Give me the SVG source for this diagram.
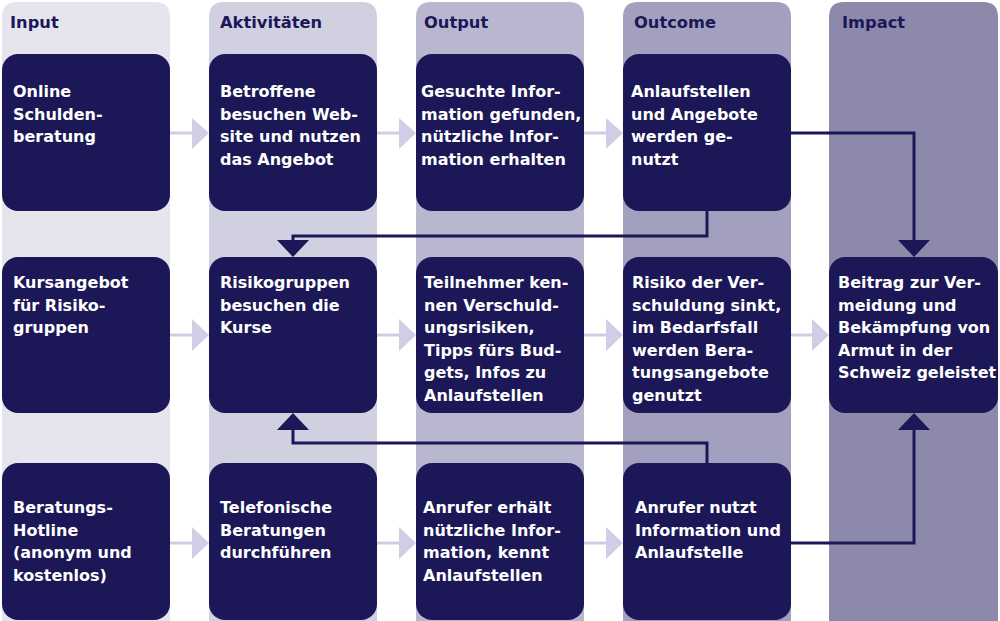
<svg xmlns="http://www.w3.org/2000/svg" width="1000" height="621" viewBox="0 0 1000 621">
<style>
.hdr{font-family:"DejaVu Sans",sans-serif;font-weight:bold;font-size:16.3px;fill:#1c1757}
.box{fill:#1c1757}
.t{font-family:"DejaVu Sans",sans-serif;font-weight:bold;font-size:16px;fill:#ffffff}
.la{stroke:#cfcee6;stroke-width:3;fill:none}
.lh{fill:#cfcee6}
.dc{stroke:#1c1757;stroke-width:3;fill:none}
.dh{fill:#1c1757}
</style>
<rect width="1000" height="621" fill="#ffffff"/>
<g id="columns">
<path d="M2,640 V17 Q2,2 17,2 H155 Q170,2 170,17 V640 Z" fill="#e6e5ee"/>
<path d="M209,640 V17 Q209,2 224,2 H362 Q377,2 377,17 V640 Z" fill="#d1d0e1"/>
<path d="M416,640 V17 Q416,2 431,2 H569 Q584,2 584,17 V640 Z" fill="#b9b7cf"/>
<path d="M623,640 V17 Q623,2 638,2 H776 Q791,2 791,17 V640 Z" fill="#a3a0bf"/>
<path d="M829,640 V17 Q829,2 844,2 H983 Q998,2 998,17 V640 Z" fill="#8d89ab"/>
<text class="hdr" x="10" y="28">Input</text>
<text class="hdr" x="220" y="28">Aktivitäten</text>
<text class="hdr" x="424" y="28">Output</text>
<text class="hdr" x="634" y="28">Outcome</text>
<text class="hdr" x="842" y="28">Impact</text>
</g>
<g id="light-arrows">
<path class="la" d="M170,133 H193 M377,133 H400 M584,133 H607 M170,335 H193 M377,335 H400 M584,335 H607 M791,335 H814 M170,543 H193 M377,543 H400 M584,543 H607"/>
<path class="lh" d="M192,118 L209,133 L192,149 Z M399,118 L416,133 L399,149 Z M606,118 L623,133 L606,149 Z M192,319 L209,335 L192,351 Z M399,319 L416,335 L399,351 Z M606,319 L623,335 L606,351 Z M812,319 L829,335 L812,351 Z M192,527 L209,543 L192,559 Z M399,527 L416,543 L399,559 Z M606,527 L623,543 L606,559 Z"/>
</g>
<g id="connectors">
<path class="dc" d="M791,133 H914 V242"/>
<path class="dh" d="M898,240 L930,240 L914,257 Z"/>
<path class="dc" d="M707,211 V236 H293 V242"/>
<path class="dh" d="M277,240 L309,240 L293,257 Z"/>
<path class="dc" d="M707,463 V443 H293 V428"/>
<path class="dh" d="M277,430 L309,430 L293,413 Z"/>
<path class="dc" d="M791,543 H914 V428"/>
<path class="dh" d="M898,430 L930,430 L914,413 Z"/>
</g>
<g id="n-online"><rect class="box" x="2" y="54" width="168" height="157" rx="16"/><text class="t" x="13" y="97">Online<tspan x="13" dy="22.5">Schulden-</tspan><tspan x="13" dy="22.5">beratung</tspan></text></g>
<g id="n-betroffene"><rect class="box" x="209" y="54" width="168" height="157" rx="16"/><text class="t" x="220" y="97">Betroffene<tspan x="220" dy="22.5">besuchen Web-</tspan><tspan x="220" dy="22.5">site und nutzen</tspan><tspan x="220" dy="22.5">das Angebot</tspan></text></g>
<g id="n-gesucht"><rect class="box" x="416" y="54" width="168" height="157" rx="16"/><text class="t" x="421" y="97">Gesuchte Infor-<tspan x="421" dy="22.5">mation gefunden,</tspan><tspan x="421" dy="22.5">nützliche Infor-</tspan><tspan x="421" dy="22.5">mation erhalten</tspan></text></g>
<g id="n-anlauf"><rect class="box" x="623" y="54" width="168" height="157" rx="16"/><text class="t" x="631" y="97">Anlaufstellen<tspan x="631" dy="22.5">und Angebote</tspan><tspan x="631" dy="22.5">werden ge-</tspan><tspan x="631" dy="22.5">nutzt</tspan></text></g>
<g id="n-kurs"><rect class="box" x="2" y="257" width="168" height="156" rx="16"/><text class="t" x="13" y="288">Kursangebot<tspan x="13" dy="22.5">für Risiko-</tspan><tspan x="13" dy="22.5">gruppen</tspan></text></g>
<g id="n-risikogruppen"><rect class="box" x="209" y="257" width="168" height="156" rx="16"/><text class="t" x="220" y="288">Risikogruppen<tspan x="220" dy="22.5">besuchen die</tspan><tspan x="220" dy="22.5">Kurse</tspan></text></g>
<g id="n-teilnehmer"><rect class="box" x="416" y="257" width="168" height="156" rx="16"/><text class="t" x="424" y="288">Teilnehmer ken-<tspan x="424" dy="22.5">nen Verschuld-</tspan><tspan x="424" dy="22.5">ungsrisiken,</tspan><tspan x="424" dy="22.5">Tipps fürs Bud-</tspan><tspan x="424" dy="22.5">gets, Infos zu</tspan><tspan x="424" dy="22.5">Anlaufstellen</tspan></text></g>
<g id="n-risiko"><rect class="box" x="623" y="257" width="168" height="156" rx="16"/><text class="t" x="632" y="288">Risiko der Ver-<tspan x="632" dy="22.5">schuldung sinkt,</tspan><tspan x="632" dy="22.5">im Bedarfsfall</tspan><tspan x="632" dy="22.5">werden Bera-</tspan><tspan x="632" dy="22.5">tungsangebote</tspan><tspan x="632" dy="22.5">genutzt</tspan></text></g>
<g id="n-impact"><rect class="box" x="829" y="257" width="169" height="156" rx="16"/><text class="t" x="838" y="288">Beitrag zur Ver-<tspan x="838" dy="22.5">meidung und</tspan><tspan x="838" dy="22.5">Bekämpfung von</tspan><tspan x="838" dy="22.5">Armut in der</tspan><tspan x="838" dy="22.5">Schweiz geleistet</tspan></text></g>
<g id="n-hotline"><rect class="box" x="2" y="463" width="168" height="157" rx="16"/><text class="t" x="13" y="513">Beratungs-<tspan x="13" dy="22.5">Hotline</tspan><tspan x="13" dy="22.5">(anonym und</tspan><tspan x="13" dy="22.5">kostenlos)</tspan></text></g>
<g id="n-telefon"><rect class="box" x="209" y="463" width="168" height="157" rx="16"/><text class="t" x="220" y="513">Telefonische<tspan x="220" dy="22.5">Beratungen</tspan><tspan x="220" dy="22.5">durchführen</tspan></text></g>
<g id="n-anrufer1"><rect class="box" x="416" y="463" width="168" height="157" rx="16"/><text class="t" x="423" y="513">Anrufer erhält<tspan x="423" dy="22.5">nützliche Infor-</tspan><tspan x="423" dy="22.5">mation, kennt</tspan><tspan x="423" dy="22.5">Anlaufstellen</tspan></text></g>
<g id="n-anrufer2"><rect class="box" x="623" y="463" width="168" height="157" rx="16"/><text class="t" x="635" y="513">Anrufer nutzt<tspan x="635" dy="22.5">Information und</tspan><tspan x="635" dy="22.5">Anlaufstelle</tspan></text></g>
</svg>
